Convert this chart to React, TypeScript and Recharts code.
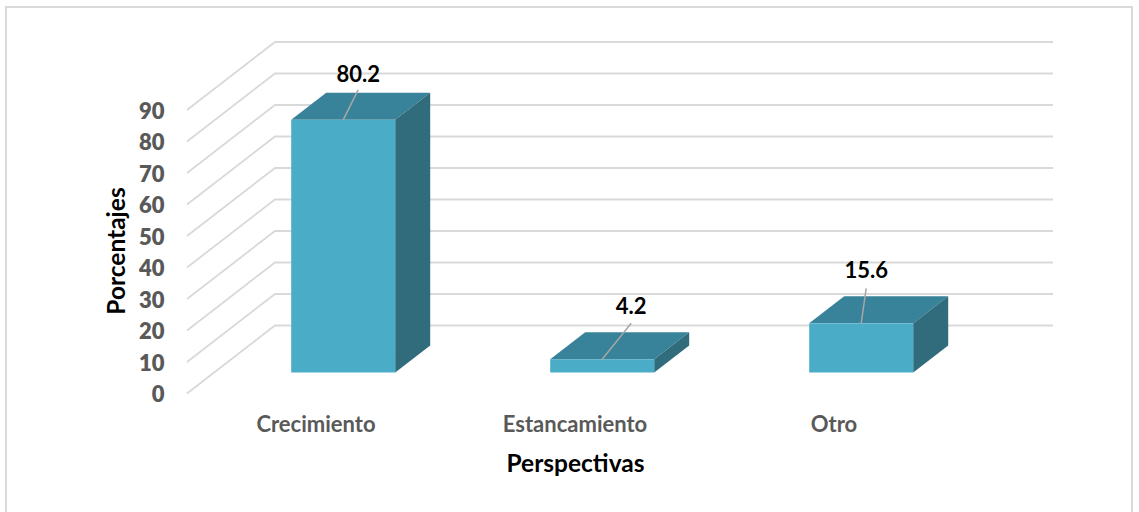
import React from 'react';
import { BarChart, Bar, XAxis, YAxis, CartesianGrid, LabelList } from 'recharts';

const categories = ['Crecimiento', 'Estancamiento', 'Otro'];
const values = [80.2, 4.2, 15.6];
const valueLabels = ['80.2', '4.2', '15.6'];
const yTicks = [0, 10, 20, 30, 40, 50, 60, 70, 80, 90];
const data = categories.map((name, i) => ({ name, value: values[i], label: valueLabels[i] }));

const FONT = 'Lato, Carlito, Calibri, sans-serif';
const FRONT = '#4AACC7';
const TOP = '#38839A';
const SIDE = '#306C7C';
const GRID = '#D9D9D9';
const TEXT = '#595959';
const DEPTH_X = 35;
const DEPTH_Y = 27;
const LEADERS = [
  { dx: 15, end: 30, text: 46 },
  { dx: 29, end: 36, text: 53 },
  { dx: 5, end: 35, text: 53 },
];

function Bar3D(props: any) {
  const { x, y, width, height } = props;
  const r = x + width;
  const b = y + height;
  return (
    <g>
      <polygon points={`${x},${y} ${x + DEPTH_X},${y - DEPTH_Y} ${r + DEPTH_X},${y - DEPTH_Y} ${r},${y}`} fill={TOP} />
      <polygon points={`${r},${y} ${r + DEPTH_X},${y - DEPTH_Y} ${r + DEPTH_X},${b - DEPTH_Y} ${r},${b}`} fill={SIDE} />
      <rect x={x} y={y} width={width} height={height} fill={FRONT} />
    </g>
  );
}

function GridLine3D(props: any) {
  const { x1, y1, x2 } = props;
  const bx = x1 + 61.5;
  const by = y1 - 47;
  return (
    <polyline
      key={props.index}
      points={`${x1 - 26.5},${y1 + 21} ${bx},${by} ${x2 + 62.5},${by}`}
      fill="none"
      stroke={GRID}
      strokeWidth={1.8}
    />
  );
}

function YTick(props: any) {
  const { x, y, payload } = props;
  return (
    <text x={x - 41} y={y + 29.5} textAnchor="end" fontFamily={FONT} fontWeight={800} fontSize={22} fill={TEXT}>
      {payload.value}
    </text>
  );
}

function XTick(props: any) {
  const { x, y, payload } = props;
  return (
    <text x={x - 27} y={y + 51} textAnchor="middle" fontFamily={FONT} fontWeight={700} fontSize={22} fill={TEXT}>
      {payload.value}
    </text>
  );
}

function DataLabel(props: any) {
  const { x, y, width, index, value } = props;
  const l = LEADERS[index];
  const cx = x + width / 2;
  return (
    <g>
      <line x1={cx} y1={y} x2={cx + l.dx} y2={y - l.end} stroke="#A6A6A6" strokeWidth={1.5} />
      <text x={cx + l.dx} y={y - l.text + 8} textAnchor="middle" fontFamily={FONT} fontWeight={700} fontSize={22} fill="#000">
        {value}
      </text>
    </g>
  );
}

export default function App() {
  return (
    <div style={{ position: 'absolute', left: 0, top: 0, width: 1139, height: 512, background: '#fff', overflow: 'hidden' }}>
      <div style={{ position: 'absolute', left: 5, top: 6, width: 1128, height: 520, border: '2px solid #D9D9D9', boxSizing: 'border-box' }} />
      <div style={{ position: 'absolute', left: 0, top: 0 }}>
        <BarChart
          width={1139}
          height={512}
          data={data}
          barCategoryGap="30%"
          margin={{ top: 89, bottom: 99.5, left: 113.5, right: 148.5 }}
        >
          <CartesianGrid vertical={false} horizontal={GridLine3D as any} />
          <XAxis dataKey="name" height={40} axisLine={false} tickLine={false} tick={XTick as any} interval={0} />
          <YAxis width={100} domain={[0, 90]} ticks={yTicks} axisLine={false} tickLine={false} tick={YTick as any} />
          <Bar dataKey="value" isAnimationActive={false} shape={Bar3D as any}>
            <LabelList dataKey="label" content={DataLabel as any} />
          </Bar>
          <text x={575.5} y={472} textAnchor="middle" fontFamily={FONT} fontWeight={700} fontSize={24.5} fill="#000">
            Perspectivas
          </text>
          <text
            x={125}
            y={251}
            transform="rotate(-90 125 251)"
            textAnchor="middle"
            fontFamily={FONT}
            fontWeight={700}
            fontSize={24.5}
            fill="#000"
          >
            Porcentajes
          </text>
        </BarChart>
      </div>
    </div>
  );
}
